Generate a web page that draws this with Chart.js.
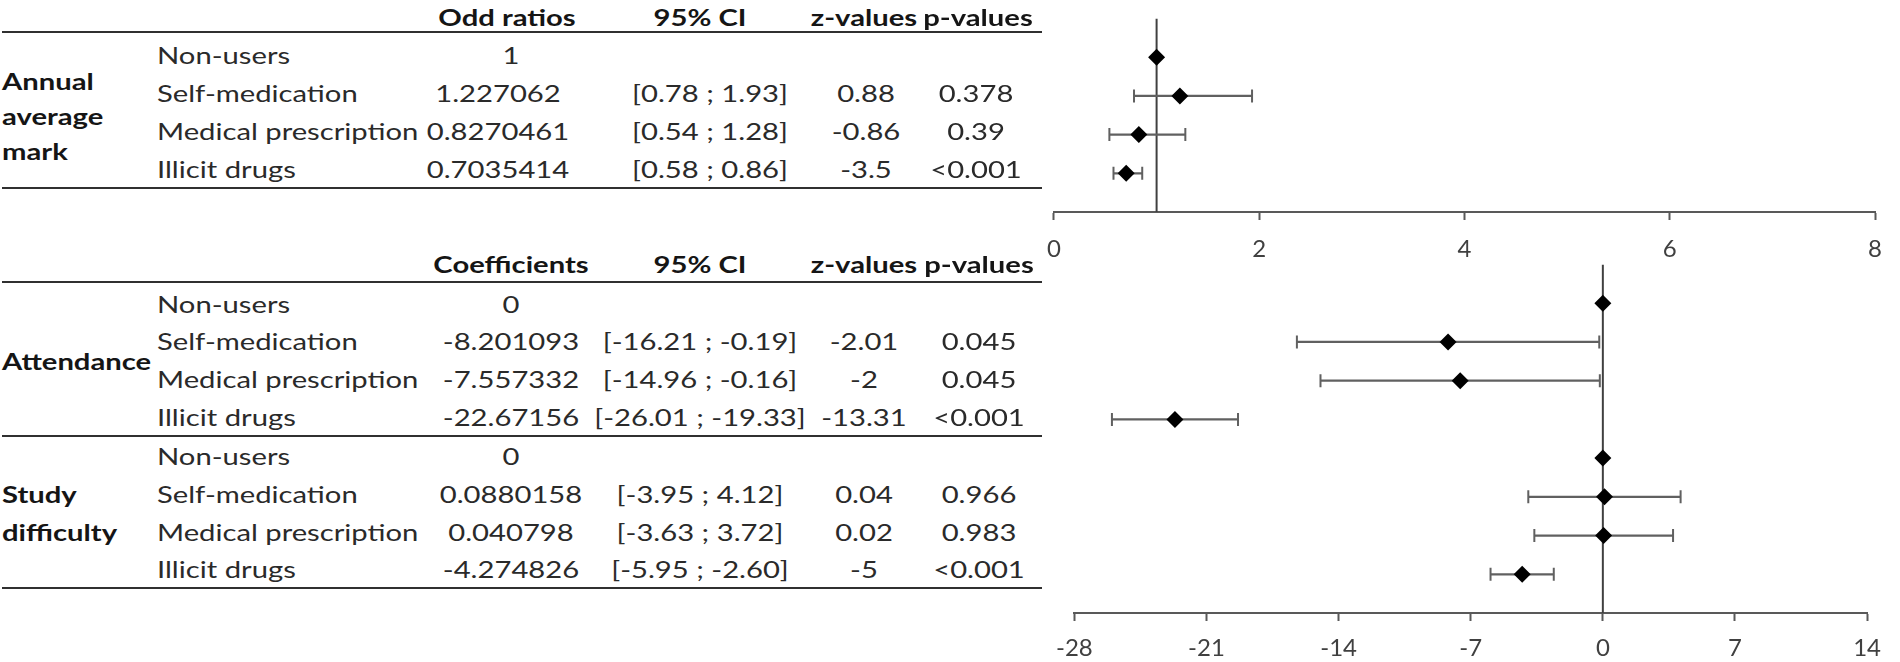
<!DOCTYPE html>
<html>
<head>
<meta charset="utf-8">
<script src="https://cdn.jsdelivr.net/npm/chart.js@4.4.1/dist/chart.umd.min.js"></script>
<style>
  html, body { margin: 0; padding: 0; background: #fff; }
  body { width: 1900px; height: 662px; overflow: hidden; position: relative; font-family: Lato, "Open Sans", sans-serif; color: #2a2a2a; }
  .t { position: absolute; white-space: nowrap; font-size: 23px; line-height: 1.2; }
  .c { transform: translate(-50%, -50%) scaleX(1.27); transform-origin: center center; }
  .l { transform: translate(0, -50%) scaleX(1.27); transform-origin: left center; }
  .b { font-weight: bold; color: #151515; }
  .rule { position: absolute; left: 2px; width: 1040px; height: 2px; background: #303030; }
  .box { position: absolute; }
</style>
</head>
<body>
<div id="top" class="box" style="left:1032px; top:10px; width:865px; height:252px;"><canvas id="c1"></canvas></div>
<div id="bot" class="box" style="left:1043px; top:256px; width:851px; height:406px;"><canvas id="c2"></canvas></div>
<script>
// ---------------- data ----------------
const groups = ['Non-users', 'Self-medication', 'Medical prescription', 'Illicit drugs'];

// Annual average mark (odds ratios)
const markOR   = [1, 1.227062, 0.8270461, 0.7035414];
const markLow  = [null, 0.78, 0.54, 0.58];
const markHigh = [null, 1.93, 1.28, 0.86];
const markZ    = ['', '0.88', '-0.86', '-3.5'];
const markP    = ['', '0.378', '0.39', '<0.001'];

// Attendance (coefficients)
const attCoef = [0, -8.201093, -7.557332, -22.67156];
const attLow  = [null, -16.21, -14.96, -26.01];
const attHigh = [null, -0.19, -0.16, -19.33];
const attZ    = ['', '-2.01', '-2', '-13.31'];
const attP    = ['', '0.045', '0.045', '<0.001'];

// Study difficulty (coefficients)
const sdCoef = [0, 0.0880158, 0.040798, -4.274826];
const sdLow  = [null, -3.95, -3.63, -5.95];
const sdHigh = [null, 4.12, 3.72, -2.60];
const sdZ    = ['', '0.04', '0.02', '-5'];
const sdP    = ['', '0.966', '0.983', '<0.001'];

const topTicks = [0, 2, 4, 6, 8];
const botTicks = [-28, -21, -14, -7, 0, 7, 14];
const topRef = 1;
const botRef = 0;

// ---------------- table (text) ----------------
function put(txt, x, y, cls) {
  const d = document.createElement('div');
  d.className = 't ' + cls;
  d.style.left = x + 'px';
  d.style.top = y + 'px';
  d.textContent = txt;
  document.body.appendChild(d);
}
function rule(y) {
  const d = document.createElement('div');
  d.className = 'rule';
  d.style.top = (y - 1) + 'px';
  document.body.appendChild(d);
}
function ci(lo, hi) { return lo === null ? '' : '[' + lo.toFixed(2) + ' ; ' + hi.toFixed(2) + ']'; }

// top table
put('Odd ratios', 507, 18, 'c b');
put('95% CI', 700, 18, 'c b');
put('z-values', 864, 18, 'c b');
put('p-values', 978, 18, 'c b');
rule(32);
const topRows = [56, 94, 132, 170];
groups.forEach((g, i) => {
  const y = topRows[i];
  put(g, 157, y, 'l');
  put(String(markOR[i]), i === 0 ? 511 : 498, y, 'c');
  put(ci(markLow[i], markHigh[i]), 710, y, 'c');
  put(markZ[i], 866, y, 'c');
  put(markP[i], 976, y, 'c');
});
put('Annual', 2, 82, 'l b');
put('average', 2, 117, 'l b');
put('mark', 2, 152, 'l b');
rule(188);

// bottom table
put('Coefficients', 511, 265, 'c b');
put('95% CI', 700, 265, 'c b');
put('z-values', 864, 265, 'c b');
put('p-values', 979, 265, 'c b');
rule(282);
const attRows = [305, 342, 380, 418];
const sdRows = [457, 495, 533, 570];
groups.forEach((g, i) => {
  let y = attRows[i];
  put(g, 157, y, 'l');
  put(String(attCoef[i]), 511, y, 'c');
  put(ci(attLow[i], attHigh[i]), 700, y, 'c');
  put(attZ[i], 864, y, 'c');
  put(attP[i], 979, y, 'c');
  y = sdRows[i];
  put(g, 157, y, 'l');
  put(String(sdCoef[i]), 511, y, 'c');
  put(ci(sdLow[i], sdHigh[i]), 700, y, 'c');
  put(sdZ[i], 864, y, 'c');
  put(sdP[i], 979, y, 'c');
});
put('Attendance', 2, 362, 'l b');
rule(436);
put('Study', 2, 495, 'l b');
put('difficulty', 2, 533, 'l b');
rule(588);

// ---------------- charts ----------------
Chart.defaults.font.family = 'Lato, "Open Sans", sans-serif';
Chart.defaults.animation = false;

const AXIS = '#595959';
const WHISK = '#606060';

function buildDatasets(est, lo, hi, offset) {
  const ds = [];
  // estimates (drawn on top)
  ds.push({
    data: est.map((v, i) => ({ x: v, y: i + 1 + offset })),
    pointStyle: 'rectRot', pointRadius: 8.5, pointBackgroundColor: '#000', pointBorderWidth: 0,
    showLine: false
  });
  // CI whiskers
  est.forEach((v, i) => {
    if (lo[i] === null) return;
    ds.push({
      data: [{ x: lo[i], y: i + 1 + offset }, { x: hi[i], y: i + 1 + offset }],
      showLine: true, borderColor: WHISK, borderWidth: 2.2,
      pointStyle: 'line', pointRotation: 90, pointRadius: 6.5,
      pointBorderColor: WHISK, pointBorderWidth: 2
    });
  });
  return ds;
}
function refDataset(refX, yMax) {
  return {
    data: [{ x: refX, y: 0 }, { x: refX, y: yMax }],
    showLine: true, borderColor: '#404040', borderWidth: 2, pointRadius: 0
  };
}

function makeChart(id, datasets, ticks, yMax, pad, labelPad, axisH) {
  return new Chart(document.getElementById(id), {
    type: 'scatter',
    data: { datasets },
    options: {
      responsive: true, maintainAspectRatio: false,
      layout: { padding: pad },
      plugins: { legend: { display: false }, tooltip: { enabled: false } },
      scales: {
        y: { type: 'linear', min: 0, max: yMax, reverse: true, display: false },
        x: {
          type: 'linear', min: ticks[0], max: ticks[ticks.length - 1],
          afterBuildTicks: (s) => { s.ticks = ticks.map(v => ({ value: v })); },
          afterFit: (s) => { s.height = axisH; },
          grid: { display: true, drawOnChartArea: false, drawTicks: true, tickLength: 8, tickColor: AXIS, tickWidth: 2 },
          border: { display: true, color: AXIS, width: 2 },
          ticks: { color: '#404040', font: { size: 24 }, padding: labelPad, maxRotation: 0, autoSkip: false }
        }
      }
    }
  });
}

const ds1 = buildDatasets(markOR, markLow, markHigh, 0);
ds1.push(refDataset(topRef, 5));
makeChart('c1', ds1, topTicks, 5, { left: 20, right: 12, top: 5, bottom: 0 }, 15, 50);

const ds2 = buildDatasets(attCoef, attLow, attHigh, 0)
  .concat(buildDatasets(sdCoef, sdLow, sdHigh, 4));
ds2.push(refDataset(botRef, 9));
makeChart('c2', ds2, botTicks, 9, { left: 20, right: 16, top: 5, bottom: 0 }, 13, 49);
</script>
</body>
</html>
